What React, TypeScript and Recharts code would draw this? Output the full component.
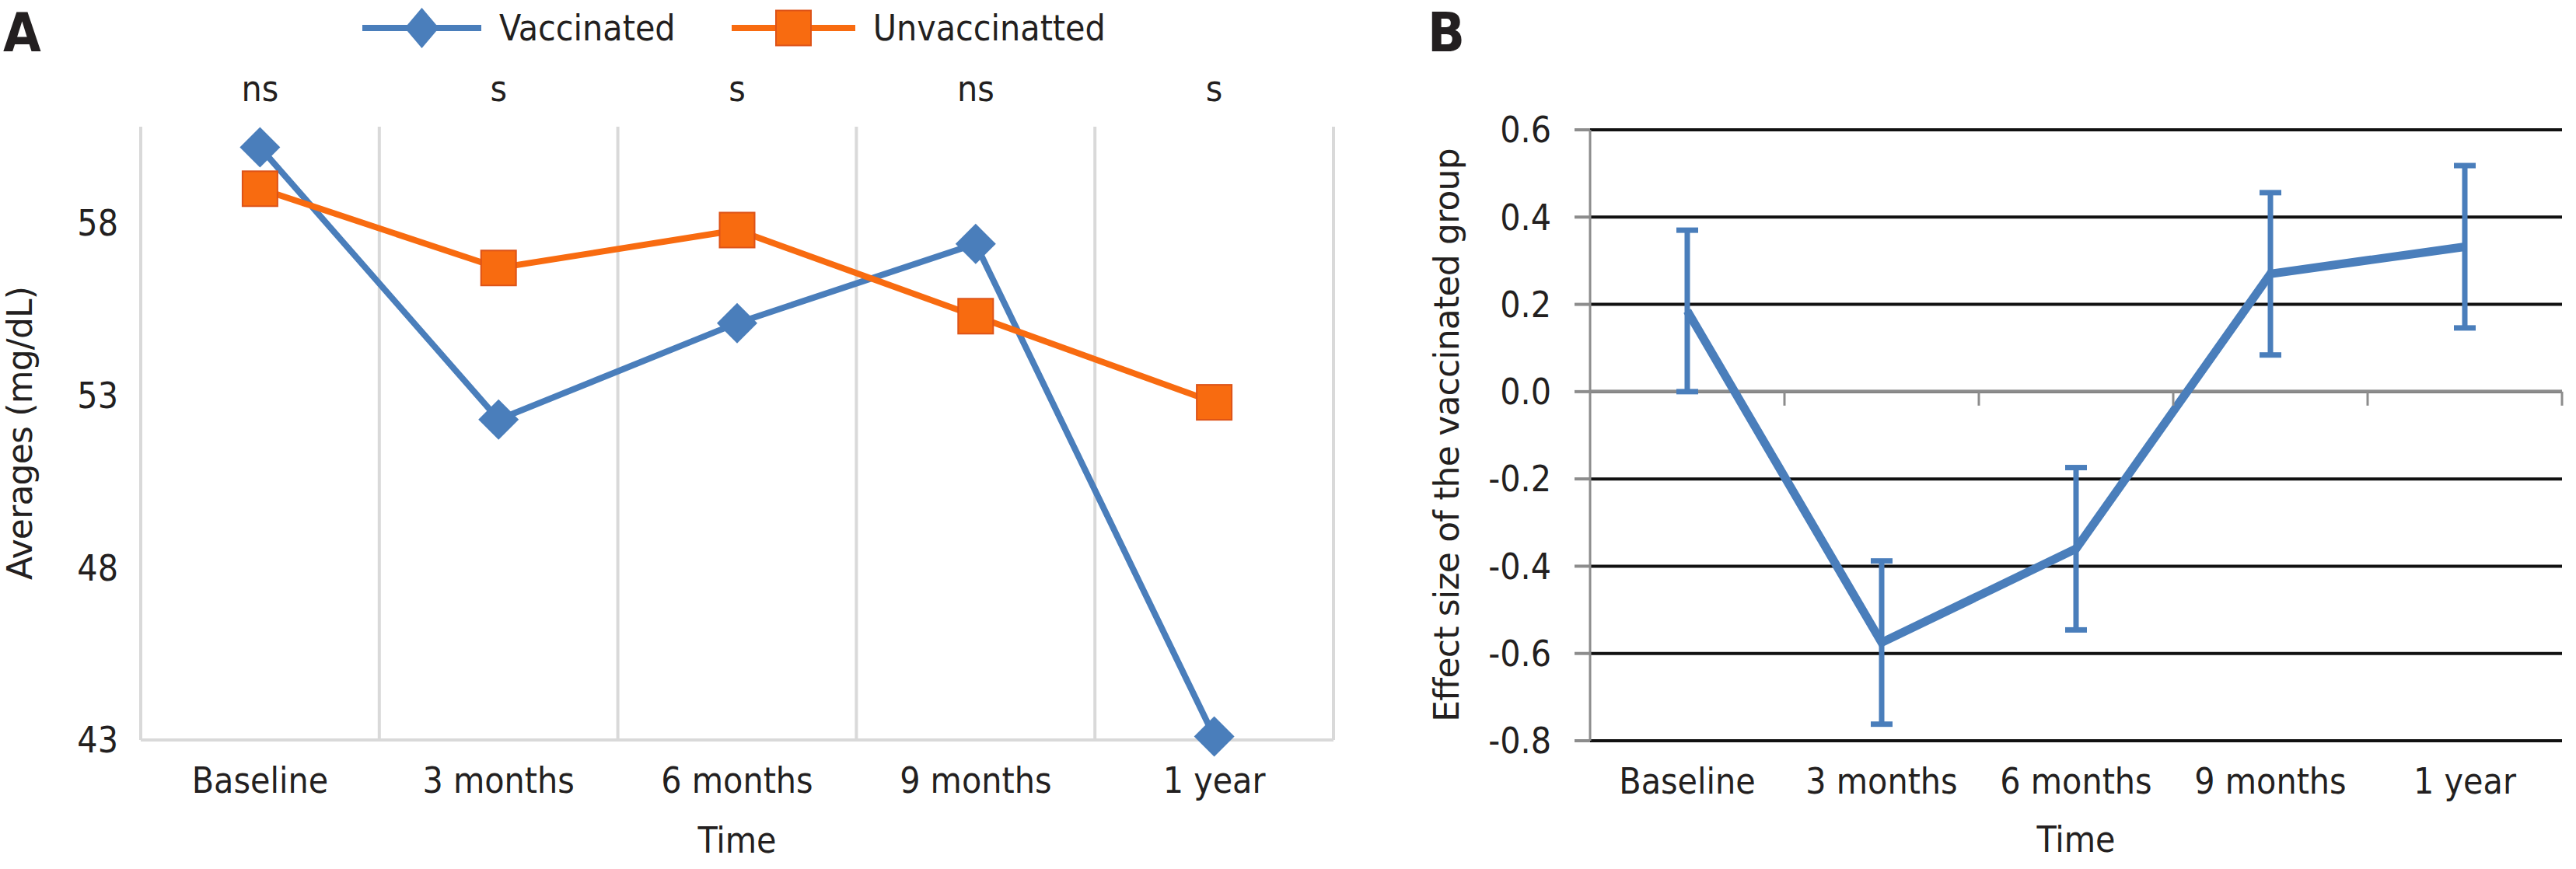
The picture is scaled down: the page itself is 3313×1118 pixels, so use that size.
import React from 'react';
import {
  ComposedChart,
  Line,
  XAxis,
  YAxis,
  CartesianGrid,
  Legend,
  ErrorBar,
  ReferenceLine,
  Scatter,
} from 'recharts';

// ---------- data ----------
const categories = ['Baseline', '3 months', '6 months', '9 months', '1 year'];
const significance = ['ns', 's', 's', 'ns', 's'];
const vaccinated = [60.2, 52.3, 55.1, 57.4, 43.1];
const unvaccinated = [59.0, 56.7, 57.8, 55.3, 52.8];
const effectSize = [0.185, -0.575, -0.36, 0.27, 0.332];
const effectError = [0.185, 0.187, 0.186, 0.186, 0.186];
const averagesTicks = [43, 48, 53, 58];
const effectTicks = [-0.8, -0.6, -0.4, -0.2, 0, 0.2, 0.4, 0.6];
const categoryIndex = [0, 1, 2, 3, 4];
const categoryBoundaries = [-0.5, 0.5, 1.5, 2.5, 3.5, 4.5];
const zeroAxisTicks = [0.5, 1.5, 2.5, 3.5, 4.5];
const seriesOrder = ['vaccinated', 'unvaccinated'];

const dataA = categories.map((c, i) => ({
  idx: i,
  name: c,
  vaccinated: vaccinated[i],
  unvaccinated: unvaccinated[i],
}));
const dataB = categories.map((c, i) => ({
  idx: i,
  name: c,
  effect: effectSize[i],
  err: effectError[i],
}));
const zeroTickData = zeroAxisTicks.map((x) => ({ idx: x, tickY: 0 }));

// ---------- styles ----------
const BLUE = '#4a7ebb';
const ORANGE = '#f86b10';
const ORANGE_EDGE = '#dd5318';
const TEXT = '#231f20';
const COND = "'DejaVu Sans Condensed', 'DejaVu Sans', sans-serif";
const WIDE = "'DejaVu Sans', Verdana, sans-serif";

const tickStyle = { fontFamily: COND, fontSize: 46, fill: TEXT };
const titleStyle = { fontFamily: WIDE, fontSize: 44, fill: TEXT, letterSpacing: -0.8 };

const renderDiamond = (props: any) => {
  const { cx, cy, index } = props;
  if (cx == null || cy == null) return <g key={`d${index}`} />;
  const r = 26;
  return (
    <path
      key={`d${index}`}
      d={`M${cx},${cy - r}L${cx + r},${cy}L${cx},${cy + r}L${cx - r},${cy}Z`}
      fill={BLUE}
    />
  );
};

const renderSquare = (props: any) => {
  const { cx, cy, index } = props;
  if (cx == null || cy == null) return <g key={`s${index}`} />;
  const h = 22.5;
  return (
    <rect
      key={`s${index}`}
      x={cx - h}
      y={cy - h}
      width={2 * h}
      height={2 * h}
      fill={ORANGE}
      stroke={ORANGE_EDGE}
      strokeWidth={2}
    />
  );
};

const renderZeroTick = (props: any) => {
  const { cx, cy } = props;
  return <line x1={cx} y1={cy} x2={cx} y2={cy + 18} stroke="#8c8c8c" strokeWidth={3} />;
};

const renderLegend = (props: any) => {
  const payload = [...(props.payload || [])].sort(
    (a: any, b: any) => seriesOrder.indexOf(a.dataKey) - seriesOrder.indexOf(b.dataKey)
  );
  return (
    <div style={{ display: 'flex', alignItems: 'center' }}>
      {payload.map((entry: any, i: number) => {
        const isDiamond = entry.dataKey === 'vaccinated';
        const w = isDiamond ? 153 : 159;
        return (
          <div
            key={i}
            style={{ display: 'flex', alignItems: 'center', marginRight: i === 0 ? 72 : 0 }}
          >
            <svg width={w} height={56} style={{ display: 'block' }}>
              <line x1={0} y1={28} x2={w} y2={28} stroke={entry.color} strokeWidth={8} />
              {isDiamond ? (
                <path
                  d={`M${w / 2},2L${w / 2 + 22},28L${w / 2},54L${w / 2 - 22},28Z`}
                  fill={entry.color}
                />
              ) : (
                <rect
                  x={w / 2 - 22.5}
                  y={5.5}
                  width={45}
                  height={45}
                  fill={ORANGE}
                  stroke={ORANGE_EDGE}
                  strokeWidth={2}
                />
              )}
            </svg>
            <span
              style={{
                marginLeft: 23,
                fontFamily: COND,
                fontSize: 46,
                lineHeight: '56px',
                color: TEXT,
                whiteSpace: 'nowrap',
              }}
            >
              {entry.value}
            </span>
          </div>
        );
      })}
    </div>
  );
};

const panelLetter = (left: number): React.CSSProperties => ({
  position: 'absolute',
  left,
  top: 7,
  fontFamily: COND,
  fontWeight: 'bold',
  fontSize: 70,
  lineHeight: '70px',
  color: TEXT,
});

export default function App() {
  return (
    <div
      style={{
        position: 'absolute',
        left: 0,
        top: 0,
        width: 3313,
        height: 1118,
        overflow: 'hidden',
        background: '#ffffff',
      }}
    >
      {/* Panel A */}
      <div style={{ position: 'absolute', left: -131, top: 0 }}>
        <ComposedChart
          width={1891}
          height={1118}
          data={dataA}
          margin={{ top: 103, right: 45, bottom: 0, left: 0 }}
        >
          <CartesianGrid
            xAxisId="grid"
            vertical
            horizontal={false}
            stroke="#d9d9d9"
            strokeWidth={4}
          />
          <XAxis
            xAxisId="grid"
            type="number"
            dataKey="idx"
            domain={[-0.5, 4.5]}
            ticks={categoryBoundaries}
            hide
          />
          <XAxis
            type="number"
            dataKey="idx"
            domain={[-0.5, 4.5]}
            ticks={categoryIndex}
            interval={0}
            tickFormatter={(v: number) => categories[Math.round(v)]}
            height={166}
            axisLine={{ stroke: '#d9d9d9', strokeWidth: 4 }}
            tickLine={false}
            tickSize={0}
            tickMargin={35}
            tick={tickStyle}
            label={{
              value: 'Time',
              position: 'insideBottom',
              offset: 21,
              fontFamily: COND,
              fontSize: 46,
              fill: TEXT,
            }}
          />
          <XAxis
            xAxisId="sig"
            orientation="top"
            type="number"
            dataKey="idx"
            domain={[-0.5, 4.5]}
            ticks={categoryIndex}
            interval={0}
            tickFormatter={(v: number) => significance[Math.round(v)]}
            height={60}
            axisLine={false}
            tickLine={false}
            tickSize={0}
            tickMargin={33}
            tick={tickStyle}
          />
          <YAxis
            domain={[43, 60.8]}
            ticks={averagesTicks}
            interval={0}
            width={312}
            axisLine={false}
            tickLine={false}
            tickSize={0}
            tickMargin={29}
            tick={tickStyle}
            label={{
              value: 'Averages (mg/dL)',
              angle: -90,
              position: 'center',
              ...titleStyle,
            }}
          />
          <Legend
            layout="horizontal"
            verticalAlign="middle"
            align="center"
            wrapperStyle={{ top: 8, left: 597, width: 1100 }}
            content={renderLegend}
          />
          <Line
            dataKey="vaccinated"
            name="Vaccinated"
            stroke={BLUE}
            strokeWidth={8}
            dot={renderDiamond}
            activeDot={false}
            isAnimationActive={false}
          />
          <Line
            dataKey="unvaccinated"
            name="Unvaccinatted"
            stroke={ORANGE}
            strokeWidth={8}
            dot={renderSquare}
            activeDot={false}
            isAnimationActive={false}
          />
        </ComposedChart>
      </div>

      {/* Panel B */}
      <div style={{ position: 'absolute', left: 1675, top: 0 }}>
        <ComposedChart
          width={1638}
          height={1118}
          data={dataB}
          margin={{ top: 167, right: 18, bottom: 0, left: 0 }}
        >
          <CartesianGrid vertical={false} stroke="#111111" strokeWidth={4} />
          <XAxis
            type="number"
            dataKey="idx"
            domain={[-0.5, 4.5]}
            ticks={categoryIndex}
            interval={0}
            tickFormatter={(v: number) => categories[Math.round(v)]}
            height={165}
            axisLine={false}
            tickLine={false}
            tickSize={0}
            tickMargin={35}
            tick={tickStyle}
            label={{
              value: 'Time',
              position: 'insideBottom',
              offset: 22,
              fontFamily: COND,
              fontSize: 46,
              fill: TEXT,
            }}
          />
          <YAxis
            domain={[-0.8, 0.6]}
            ticks={effectTicks}
            interval={0}
            tickFormatter={(v: number) => v.toFixed(1)}
            width={370}
            axisLine={{ stroke: '#8c8c8c', strokeWidth: 3 }}
            tickLine={{ stroke: '#8c8c8c', strokeWidth: 4 }}
            tickSize={20}
            tickMargin={30}
            tick={tickStyle}
            label={{
              value: 'Effect size of the vaccinated group',
              angle: -90,
              position: 'center',
              ...titleStyle,
            }}
          />
          <ReferenceLine y={0} stroke="#8c8c8c" strokeWidth={4} />
          <Scatter
            data={zeroTickData}
            dataKey="tickY"
            shape={renderZeroTick}
            legendType="none"
            isAnimationActive={false}
          />
          <Line
            dataKey="effect"
            stroke={BLUE}
            strokeWidth={11}
            dot={false}
            activeDot={false}
            isAnimationActive={false}
          >
            <ErrorBar
              dataKey="err"
              direction="y"
              width={14}
              strokeWidth={7}
              stroke={BLUE}
              isAnimationActive={false}
            />
          </Line>
        </ComposedChart>
      </div>

      <div style={panelLetter(4)}>A</div>
      <div style={panelLetter(1836)}>B</div>
    </div>
  );
}
